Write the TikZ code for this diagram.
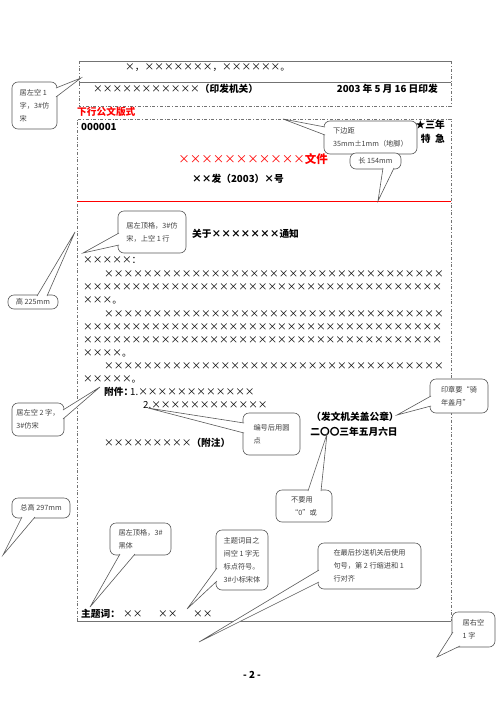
\documentclass[tikz,border=0pt]{standalone}
\usepackage{fontspec}
\setmainfont{Noto Sans CJK SC}
\usetikzlibrary{calc}

\newcommand\xs[1]{\foreach\k in {1,...,#1}{×}}
\newcommand\tail[3]{%
  \fill[white] (#1) -- (#2) -- (#3) -- cycle;
  \draw[tailline] (#1) -- (#2) -- (#3);}

\begin{document}
\begin{tikzpicture}[x=1pt, y=-1pt,
    frame/.style={draw=black!55, dash dot, line width=0.7pt},
    rule/.style={draw=black!55, line width=0.9pt},
    txt/.style={anchor=west, inner sep=0pt, font=\fontsize{9.7}{11}\selectfont},
    strong/.style={font=\fontsize{9.7}{11}\selectfont\bfseries},
    note/.style={draw=black!65, fill=white, rounded corners=6pt, line width=0.6pt,
      inner sep=0pt, outer sep=0pt, align=left, text=black!75,
      font=\fontsize{7.2}{13}\selectfont},
    tailline/.style={draw=black!65, line width=0.6pt}]
  \useasboundingbox (0,0) rectangle (500,707);

  % top box
  \draw[frame] (79,61) -- (79,106) -- (451,106) -- (451,61);
  \draw[rule] (79,61) -- (451,61);
  \draw[rule] (79,82) -- (451,82);
  \node[txt] (cc) at (125,68) {×，\xs{7}，\xs{6}。};
  \node[txt] (org) at (93,89) {\xs{11}{\bfseries（印发机关）}};
  \node[txt, strong, anchor=east] (date) at (438,89) {2003 年 5 月 16 日印发};

  % main box
  \node[txt, strong, text=red] (kind) at (77,112) {下行公文版式};
  \draw[frame] (77,621) -- (77,119) -- (451,119) -- (451,621);
  \draw[rule] (77,621) -- (451,621);
  \draw[red, line width=1pt] (77,201) -- (451,201);

  \node[txt, strong] (num) at (81,127) {000001};
  \node[txt, strong, anchor=east] (secret) at (445,125) {★三年};
  \node[txt, strong, anchor=east] (urgent) at (445,139) {特\ \ 急};
  \node[txt, anchor=center, text=red, font=\fontsize{11.5}{13}\selectfont] (title) at (253,159) {\xs{11}{\bfseries 文件}};
  \node[txt, strong, anchor=center] (docno) at (238,179) {××发（2003）×号};
  \node[txt, strong] (subj) at (192,234) {关于\xs{7}通知};
  \node[txt] (to) at (83,260) {\xs{5}：};

  \node[txt] (b1) at (104,274) {\xs{35}};
  \node[txt] (b2) at (83,287) {\xs{37}};
  \node[txt] (b3) at (83,300) {\xs{3}。};
  \node[txt] (b4) at (104,314) {\xs{35}};
  \node[txt] (b5) at (83,327) {\xs{37}};
  \node[txt] (b6) at (83,340) {\xs{37}};
  \node[txt] (b7) at (83,353) {\xs{4}。};
  \node[txt] (b8) at (104,366) {\xs{35}};
  \node[txt] (b9) at (83,379) {\xs{5}。};

  \node[txt, strong] (att) at (104,392) {附件：};
  \node[txt] (att1) at (130,392) {1.\xs{12}};
  \node[txt] (att2) at (143,405) {2.\xs{12}};
  \node[txt] (remark) at (104,443) {\xs{9}{\bfseries（附注）}};
  \node[txt, strong, anchor=center] (seal) at (355,417) {（发文机关盖公章）};
  \node[txt, strong, anchor=center] (sdate) at (354,432) {二〇〇三年五月六日};

  \node[txt, strong] (kw) at (81,614) {主题词：};
  \node[txt] (kw1) at (123,614) {××};
  \node[txt] (kw2) at (158,614) {××};
  \node[txt] (kw3) at (193,614) {××};
  \node[txt, strong, anchor=center] (page) at (252,675) {- 2 -};

  % tips of the callouts
  \coordinate (p1) at (81,78);
  \coordinate (p2) at (283,119);
  \coordinate (p3) at (378,201);
  \coordinate (p4) at (75,232);
  \coordinate (p5) at (83,253);
  \coordinate (p6) at (100,387);
  \coordinate (p7) at (148,408);
  \coordinate (p8) at (397,415);
  \coordinate (p9) at (327,434);
  \coordinate (p10) at (3,555);
  \coordinate (p11) at (90,607);
  \coordinate (p12) at (187,609);
  \coordinate (p13) at (199,642);
  \coordinate (p14) at (437,657);

  % callouts
  \node[note, minimum width=45, minimum height=47] (c1) at (34.5,105.5) {居左空 1\\字，3\#仿\\宋};
  \node[note, minimum width=93, minimum height=33] (c2) at (370.5,137.5) {下边距\\35mm±1mm（地脚）};
  \node[note, minimum width=51, minimum height=16] (c3) at (375.5,161) {长 154mm};
  \node[note, minimum width=50, minimum height=14] (c4) at (33,302) {高 225mm};
  \node[note, minimum width=68, minimum height=42] (c5) at (152,232) {居左顶格，3\#仿\\宋，上空 1 行};
  \node[note, minimum width=52, minimum height=33] (c6) at (38,419.5) {居左空 2 字，\\3\#仿宋};
  \node[note, minimum width=57, minimum height=42] (c7) at (271.5,434) {编号后用圆\\点};
  \node[note, minimum width=58, minimum height=34] (c8) at (459,396) {印章要“骑\\年盖月”};
  \node[note, minimum width=56, minimum height=32] (c9) at (304,506) {不要用\\“0”或};
  \node[note, minimum width=58, minimum height=20] (c10) at (41,508) {总高 297mm};
  \node[note, minimum width=61, minimum height=32] (c11) at (140.5,539) {居左顶格，3\#\\黑体};
  \node[note, minimum width=52, minimum height=60] (c12) at (242,560) {主题词目之\\间空 1 字无\\标点符号。\\3\#小标宋体};
  \node[note, minimum width=103, minimum height=46] (c13) at (369.5,566) {在最后抄送机关后使用\\句号，第 2 行缩进和 1\\行对齐};
  \node[note, minimum width=43, minimum height=35] (c14) at (473.5,629.5) {居右空\\1 字};

  \tail{$(c1.north east)+(-1,6)$}{p1}{$(c1.north east)+(-1,15)$}
  \tail{$(c2.north west)+(1,6)$}{p2}{$(c2.north west)+(1,14)$}
  \tail{$(c3.south west)+(33,-1)$}{p3}{$(c3.south west)+(44,-1)$}
  \tail{$(c4.north west)+(29,1)$}{p4}{$(c4.north west)+(39,1)$}
  \tail{$(c5.north west)+(1,22)$}{p5}{$(c5.north west)+(1,34)$}
  \tail{$(c6.north east)+(-1,7)$}{p6}{$(c6.north east)+(-1,16)$}
  \tail{$(c7.north west)+(1,10)$}{p7}{$(c7.north west)+(1,20)$}
  \tail{$(c8.north west)+(1,17)$}{p8}{$(c8.north west)+(1,27)$}
  \tail{$(c9.north west)+(32,1)$}{p9}{$(c9.north west)+(45,1)$}
  \tail{$(c10.south west)+(10,-1)$}{p10}{$(c10.south west)+(23,-1)$}
  \tail{$(c11.south west)+(10,-1)$}{p11}{$(c11.south west)+(25,-1)$}
  \tail{$(c12.north west)+(1,38)$}{p12}{$(c12.north west)+(1,51)$}
  \tail{$(c13.north west)+(1,27)$}{p13}{$(c13.north west)+(1,39)$}
  \tail{$(c14.north west)+(1,20)$}{p14}{$(c14.south west)+(8,-1)$}
\end{tikzpicture}
\end{document}
